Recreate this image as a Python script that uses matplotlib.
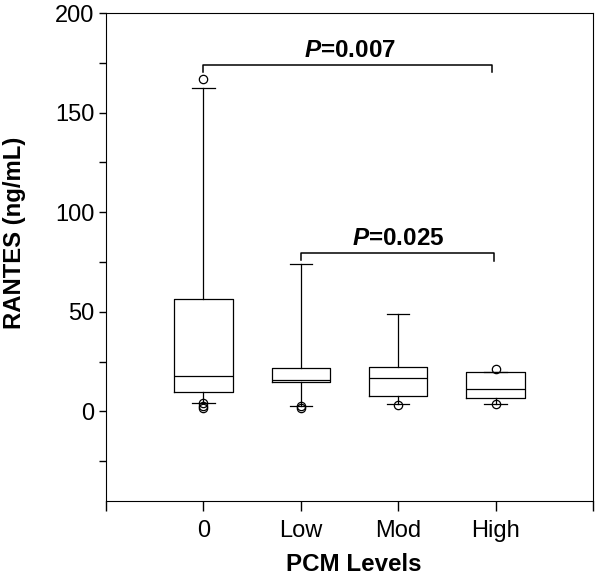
import numpy as np
import matplotlib.pyplot as plt

plt.rcParams['font.family'] = ['Liberation Sans', 'DejaVu Sans']
plt.rcParams['mathtext.fontset'] = 'custom'
plt.rcParams['mathtext.bfit'] = 'Liberation Sans:bold:italic'
plt.rcParams['mathtext.bf'] = 'Liberation Sans:bold'
plt.rcParams['mathtext.rm'] = 'Liberation Sans'

groups = ['0', 'Low', 'Mod', 'High']
q1 = [9.7, 14.5, 7.7, 6.5]
medians = [17.6, 16.0, 16.6, 11.4]
q3 = [56.6, 22.0, 22.1, 19.9]
whislo = [4.4, 2.8, 3.7, 3.9]
whishi = [162.1, 73.9, 48.9, 19.9]
fliers = [[166.8, 4.0, 2.5, 1.8], [2.6, 1.6], [3.0], [21.3, 3.9]]

# (left x, right x, bar height, left foot, right foot, label, label x, label y)
brackets = [(1, 3.96, 173.7, 170.5, 170.5, '=0.007', 2.5, 181.4),
            (2, 3.98, 79.7, 75.9, 75.4, '=0.025', 3.0, 86.8)]

stats = []
for i, g in enumerate(groups):
    stats.append(dict(label=g, q1=q1[i], med=medians[i], q3=q3[i],
                      whislo=whislo[i], whishi=whishi[i], fliers=fliers[i]))

fig = plt.figure(figsize=(6, 5.78), dpi=100)
ax = fig.add_axes([0.1767, 0.1332, 0.8116, 0.8443])

pos = np.arange(1, len(groups) + 1)
lw = 0.9
ax.bxp(stats, positions=pos, widths=0.6, showcaps=True,
       boxprops=dict(color='black', linewidth=lw),
       medianprops=dict(color='black', linewidth=lw),
       whiskerprops=dict(color='black', linewidth=lw),
       capprops=dict(color='black', linewidth=lw),
       flierprops=dict(marker='o', markersize=6, markerfacecolor='none',
                       markeredgecolor='black', markeredgewidth=0.9),
       capwidths=0.23)

for x1, x2, yh, yl, yr, txt, tx, ty in brackets:
    ax.plot([x1, x1, x2, x2], [yl, yh, yh, yr], color='black', linewidth=1.1)
    ax.text(tx, ty, r'$\mathbfit{P}$' + txt, ha='center', va='center',
            fontsize=17.5, fontweight='bold')

ax.set_xlim(0, 5)
ax.set_ylim(-45, 200)
ax.set_xticks(range(6))
ax.set_xticklabels([''] + groups + [''], fontsize=17)
ax.set_yticks([0, 50, 100, 150, 200])
ax.set_yticks([-25, 25, 75, 125, 175], minor=True)
ax.tick_params(axis='y', labelsize=17, length=5, width=1)
ax.tick_params(axis='y', which='minor', length=5, width=1)
ax.tick_params(axis='x', length=7, width=1, pad=7)
ax.set_xlabel('PCM Levels', fontsize=17.4, fontweight='bold')
ax.set_ylabel('RANTES (ng/mL)', fontsize=17.2, fontweight='bold')
ax.xaxis.set_label_coords(0.509, -0.131)
ax.yaxis.set_label_coords(-0.187, 0.549)
ax.xaxis.label.set_va('center')
ax.yaxis.label.set_va('center')

plt.savefig('out.png')
